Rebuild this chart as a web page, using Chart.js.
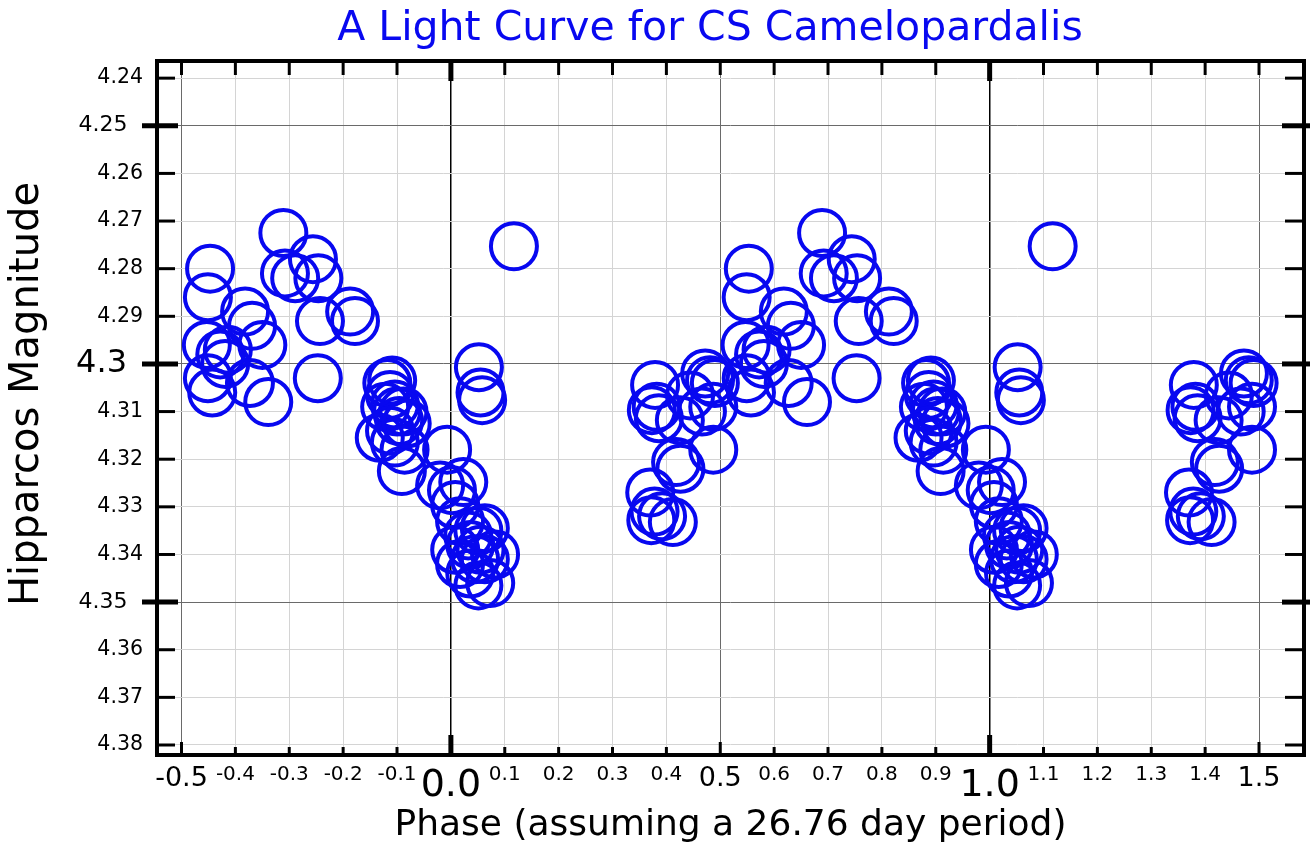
<!DOCTYPE html>
<html><head><meta charset="utf-8">
<script src="https://cdn.jsdelivr.net/npm/chart.js@4.4.1/dist/chart.umd.min.js"></script>
<style>html,body{margin:0;padding:0;background:#fff;}#wrap{width:1310px;height:848px;}</style>
</head><body><div id="wrap"><canvas id="c" width="1310" height="848"></canvas></div>
<script>
const chartTitle = 'A Light Curve for CS Camelopardalis';
const xTitle = 'Phase (assuming a 26.76 day period)';
const yTitle = 'Hipparcos Magnitude';

const xTicks = [-0.5,-0.4,-0.3,-0.2,-0.1,0,0.1,0.2,0.3,0.4,0.5,0.6,0.7,0.8,0.9,1,1.1,1.2,1.3,1.4,1.5];
const xTickLabels = ['-0.5','-0.4','-0.3','-0.2','-0.1','0.0','0.1','0.2','0.3','0.4','0.5','0.6','0.7','0.8','0.9','1.0','1.1','1.2','1.3','1.4','1.5'];
const xMajor = [-0.5,0.5,1.5];
const xPrimary = [0,1];
const yTicks = [4.24,4.25,4.26,4.27,4.28,4.29,4.30,4.31,4.32,4.33,4.34,4.35,4.36,4.37,4.38];
const yTickLabels = ['4.24','4.25','4.26','4.27','4.28','4.29','4.3','4.31','4.32','4.33','4.34','4.35','4.36','4.37','4.38'];
const yMajor = [4.25,4.35];
const yPrimary = [4.30];

// observed phases (0..1) and magnitudes; the plot repeats each one a cycle earlier/later within -0.5..1.5
const phase = [
  0.553,0.549,0.547,0.549,0.557,0.572,0.581,0.586,0.627,0.618,0.631,0.650,0.661,0.689,0.692,0.711,0.744,0.754,0.757,0.753,0.813,0.822,
  0.882,0.891,0.887,0.896,0.878,0.900,0.904,0.912,0.887,0.868,0.896,0.914,0.909,0.918,
  0.993,0.980,0.002,0.008,0.023,0.017,0.032,0.008,0.036,0.051,0.063,0.017,0.036,0.051,0.073,0.082,0.063,0.045,0.055,
  0.052,0.055,0.058,0.117,
  0.379,0.373,0.382,0.386,0.370,0.372,0.378,0.392,0.412,0.418,0.426,0.425,0.472,0.481,0.490,0.487,0.466,0.487,0.444
];
const magnitude = [
  4.280,4.286,4.296,4.303,4.306,4.298,4.300,4.297,4.304,4.289,4.292,4.296,4.308,4.2725,4.281,4.282,4.278,4.282,4.291,4.303,4.289,4.291,
  4.304,4.3035,4.3065,4.3085,4.309,4.310,4.312,4.310,4.314,4.3155,4.3165,4.318,4.3225,4.3125,
  4.318,4.3255,4.3265,4.3296,4.3248,4.333,4.336,4.339,4.338,4.335,4.3345,4.342,4.344,4.3465,4.346,4.340,4.341,4.341,4.339,
  4.3007,4.306,4.3076,4.2753,
  4.3044,4.3097,4.309,4.3114,4.327,4.3328,4.331,4.332,4.3332,4.3206,4.322,4.3118,4.302,4.3034,4.304,4.309,4.310,4.318,4.3066
];

const points = [];
phase.forEach((p, i) => {
  const m = magnitude[i];
  points.push({x: p, y: m});
  if (p - 1 >= -0.5) points.push({x: p - 1, y: m});
  if (p + 1 <= 1.5) points.push({x: p + 1, y: m});
});

const near = (a, list) => list.some(v => Math.abs(v - a) < 1e-6);
const tv = c => (c && c.tick) ? c.tick.value : NaN;
const font = "'DejaVu Sans', sans-serif";
const blue = 'rgb(8,8,240)';

const framePlugin = {
  id: 'frameTicks',
  beforeDatasetsDraw(chart) {
    const {ctx, chartArea: a, scales: {x, y}} = chart;
    ctx.save();
    ctx.strokeStyle = '#000';
    const seg = (x1, y1, x2, y2) => { ctx.beginPath(); ctx.moveTo(x1, y1); ctx.lineTo(x2, y2); ctx.stroke(); };
    xTicks.forEach(v => {
      const px = x.getPixelForValue(v);
      const prim = near(v, xPrimary), maj = near(v, xMajor);
      ctx.lineWidth = prim ? 5 : 3;
      seg(px, a.bottom, px, a.bottom - (prim ? 20 : maj ? 13 : 8));
      seg(px, a.top, px, a.top + (prim ? 20 : 14));
    });
    yTicks.forEach(v => {
      const py = y.getPixelForValue(v);
      if (near(v, yPrimary) || near(v, yMajor)) {
        ctx.lineWidth = 5;
        seg(a.left - 15, py, a.left + 21, py);
        seg(a.right - 22, py, a.right + 8, py);
      } else {
        ctx.lineWidth = 3;
        seg(a.left, py, a.left + 18, py);
        seg(a.right - 19, py, a.right, py);
      }
    });
    ctx.restore();
  },
  afterDatasetsDraw(chart) {
    const {ctx, chartArea: a} = chart;
    ctx.save();
    ctx.strokeStyle = '#000';
    ctx.lineWidth = 4;
    ctx.strokeRect(a.left, a.top, a.right - a.left, a.bottom - a.top);
    ctx.restore();
  }
};

new Chart(document.getElementById('c'), {
  type: 'scatter',
  data: {
    datasets: [{
      label: 'CS Cam',
      data: points,
      pointStyle: 'circle',
      pointRadius: 23,
      pointBorderWidth: 4,
      borderColor: blue,
      backgroundColor: 'rgba(0,0,0,0)',
      pointBackgroundColor: 'rgba(0,0,0,0)',
      showLine: false,
      clip: 30
    }]
  },
  options: {
    responsive: false,
    animation: false,
    events: [],
    layout: {autoPadding: false, padding: {left: 0, right: 6, top: 0, bottom: 0}},
    plugins: {
      legend: {display: false},
      tooltip: {enabled: false},
      title: {
        display: true,
        text: chartTitle + '\u2003',
        fullSize: false,
        color: blue,
        font: {family: font, size: 41, weight: 'normal', lineHeight: 1.2},
        padding: {top: 4.5, bottom: 7.3}
      }
    },
    scales: {
      x: {
        type: 'linear',
        min: -0.5455,
        max: 1.5835,
        afterBuildTicks: s => { s.ticks = xTicks.map(v => ({value: v})); },
        afterFit: s => { s.height = 93; s.paddingLeft = 0; s.paddingRight = 0; },
        border: {display: false},
        grid: {
          drawTicks: false,
          color: c => near(tv(c), xPrimary) ? '#000' : near(tv(c), xMajor) ? '#6a6a6a' : '#d4d4d4',
          lineWidth: c => near(tv(c), xPrimary) ? 1.5 : 1
        },
        ticks: {
          autoSkip: false,
          maxRotation: 0,
          padding: 8,
          color: '#000',
          callback: (v) => { const i = xTicks.findIndex(t => Math.abs(t - v) < 1e-6); return i >= 0 ? xTickLabels[i] : ''; },
          font: c => ({family: font, size: near(tv(c), xPrimary) ? 38 : near(tv(c), xMajor) ? 27 : 20, lineHeight: 1.2})
        },
        title: {
          display: true,
          text: xTitle,
          color: '#000',
          font: {family: font, size: 36, lineHeight: 1},
          padding: {top: 0, bottom: 4}
        }
      },
      y: {
        type: 'linear',
        reverse: true,
        min: 4.2364,
        max: 4.3821,
        afterBuildTicks: s => { s.ticks = yTicks.map(v => ({value: v})); },
        afterFit: s => { s.width = 157; },
        border: {display: false},
        grid: {
          drawTicks: false,
          color: c => near(tv(c), yPrimary) || near(tv(c), yMajor) ? '#6a6a6a' : '#d4d4d4',
          lineWidth: 1
        },
        ticks: {
          autoSkip: false,
          padding: 14,
          color: '#000',
          callback: (v) => {
            const i = yTicks.findIndex(t => Math.abs(t - v) < 1e-6);
            if (i < 0) return '';
            if (near(v, yPrimary)) return yTickLabels[i] + '\u2002';
            if (near(v, yMajor)) return yTickLabels[i] + '\u2002\u2009';
            return yTickLabels[i];
          },
          font: c => ({family: font, size: near(tv(c), yPrimary) ? 32 : near(tv(c), yMajor) ? 22 : 20.5, lineHeight: 1.2})
        },
        title: {
          display: true,
          text: '\u2002\u2009' + yTitle,
          color: '#000',
          font: {family: font, size: 40, lineHeight: 1},
          padding: {top: 8, bottom: 0}
        }
      }
    }
  },
  plugins: [framePlugin]
});
</script></body></html>
